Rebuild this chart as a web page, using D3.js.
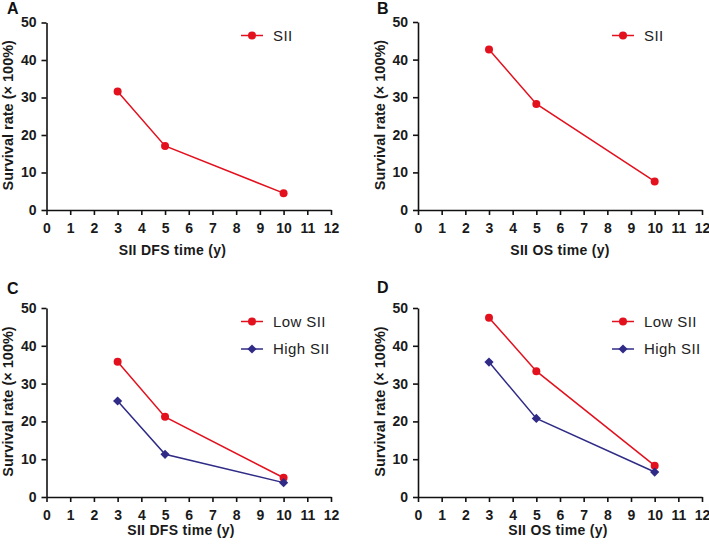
<!DOCTYPE html>
<html>
<head>
<meta charset="utf-8">
<script src="https://cdn.jsdelivr.net/npm/d3@7"></script>
<style>
  html, body { margin: 0; padding: 0; background: #fff; }
  svg { display: block; font-family: Arial, "Liberation Sans", sans-serif; }
</style>
</head>
<body>
<svg id="chart" width="709" height="544"></svg>
<script>
// ---- data ----
const years = [3, 5, 10];
const dfsSII = [31.6, 17.1, 4.5];
const osSII = [42.7, 28.2, 7.6];
const dfsLowSII = [35.8, 21.2, 5.1];
const dfsHighSII = [25.4, 11.3, 3.8];
const osLowSII = [47.4, 33.3, 8.3];
const osHighSII = [35.7, 20.8, 6.6];
const xTicks = [0, 1, 2, 3, 4, 5, 6, 7, 8, 9, 10, 11, 12];
const yTicks = [0, 10, 20, 30, 40, 50];
const panelLabels = ["A", "B", "C", "D"];
const xTitles = ["SII DFS time (y)", "SII OS time (y)", "SII DFS time (y)", "SII OS time (y)"];
const yTitle = "Survival rate (× 100%)";
const seriesNamesSingle = ["SII"];
const seriesNamesPair = ["Low SII", "High SII"];

const RED = "#e3101d";
const BLUE = "#2f2b86";

const panels = [
  { label: panelLabels[0], xTitle: xTitles[0], x0: 46.5, x1: 331, yTop: 22.5, yBot: 210,
    lx: 7, ly: 14, tx: 172.5, ty: 254.5, yt: 13, leg: { x: 241, y: 35.5, tx: 273 },
    series: [{ name: seriesNamesSingle[0], values: dfsSII, color: RED, shape: "circle" }] },
  { label: panelLabels[1], xTitle: xTitles[1], x0: 418, x1: 702, yTop: 22, yBot: 210,
    lx: 377, ly: 14, tx: 560, ty: 255, yt: 385, leg: { x: 612, y: 35.5, tx: 644 },
    series: [{ name: seriesNamesSingle[0], values: osSII, color: RED, shape: "circle" }] },
  { label: panelLabels[2], xTitle: xTitles[2], x0: 46.5, x1: 331, yTop: 308, yBot: 497,
    lx: 7, ly: 294, tx: 181, ty: 535, yt: 13, leg: { x: 241, y: 321.5, tx: 273, dy: 27.5 },
    series: [{ name: seriesNamesPair[0], values: dfsLowSII, color: RED, shape: "circle" },
             { name: seriesNamesPair[1], values: dfsHighSII, color: BLUE, shape: "diamond" }] },
  { label: panelLabels[3], xTitle: xTitles[3], x0: 418, x1: 702, yTop: 308, yBot: 497,
    lx: 377, ly: 293, tx: 558, ty: 535, yt: 385, leg: { x: 612, y: 321.5, tx: 644, dy: 27.5 },
    series: [{ name: seriesNamesPair[0], values: osLowSII, color: RED, shape: "circle" },
             { name: seriesNamesPair[1], values: osHighSII, color: BLUE, shape: "diamond" }] }
];

const svg = d3.select("#chart");

function drawMarker(g, shape, x, y, color) {
  if (shape === "circle") {
    g.append("circle").attr("cx", x).attr("cy", y).attr("r", 4).attr("fill", color);
  } else {
    const r = 4.6;
    g.append("path")
      .attr("d", `M${x},${y - r}L${x + r},${y}L${x},${y + r}L${x - r},${y}Z`)
      .attr("fill", color);
  }
}

panels.forEach(p => {
  const g = svg.append("g");
  const x = d3.scaleLinear().domain([0, 12]).range([p.x0, p.x1]);
  const y = d3.scaleLinear().domain([0, 50]).range([p.yBot, p.yTop]);

  const xAxis = g.append("g").attr("transform", `translate(0,${p.yBot})`)
    .call(d3.axisBottom(x).tickValues(xTicks).tickFormat(d3.format("d"))
      .tickSize(5).tickSizeOuter(0).tickPadding(8));
  const yAxis = g.append("g").attr("transform", `translate(${p.x0},0)`)
    .call(d3.axisLeft(y).tickValues(yTicks).tickFormat(d3.format("d"))
      .tickSize(5).tickSizeOuter(0).tickPadding(5));

  [xAxis, yAxis].forEach(a => {
    a.selectAll("path.domain").attr("stroke", "#111").attr("stroke-width", 1.6);
    a.selectAll(".tick line").attr("stroke", "#111").attr("stroke-width", 1.6);
    a.selectAll(".tick text").attr("fill", "#1a1a1a")
      .style("font-size", "14px").style("font-weight", "bold")
      .style("font-family", "Arial, 'Liberation Sans', sans-serif");
  });

  // lines and markers
  p.series.forEach(s => {
    const pts = years.map((yr, i) => [x(yr), y(s.values[i])]);
    g.append("path").attr("d", d3.line()(pts))
      .attr("fill", "none").attr("stroke", s.color).attr("stroke-width", 1.5);
    pts.forEach(pt => drawMarker(g, s.shape, pt[0], pt[1], s.color));
  });

  // legend
  p.series.forEach((s, i) => {
    const ly = p.leg.y + i * (p.leg.dy || 0);
    g.append("line").attr("x1", p.leg.x).attr("x2", p.leg.x + 22)
      .attr("y1", ly).attr("y2", ly).attr("stroke", s.color).attr("stroke-width", 1.5);
    drawMarker(g, s.shape, p.leg.x + 11, ly, s.color);
    g.append("text").attr("x", p.leg.tx).attr("y", ly).attr("dy", "0.36em")
      .attr("fill", "#222").style("font-size", "15px").style("letter-spacing", "0.4px")
      .text(s.name);
  });

  // panel label
  g.append("text").attr("x", p.lx).attr("y", p.ly)
    .style("font-size", "16px").style("font-weight", "bold").attr("fill", "#111")
    .text(p.label);

  // axis titles
  g.append("text").attr("x", p.tx).attr("y", p.ty).attr("text-anchor", "middle")
    .style("font-size", "14px").style("font-weight", "bold").attr("fill", "#1a1a1a")
    .style("letter-spacing", "0.3px")
    .text(p.xTitle);
  const cy = (p.yTop + p.yBot) / 2 - 1;
  g.append("text").attr("transform", `translate(${p.yt},${cy}) rotate(-90)`)
    .attr("text-anchor", "middle")
    .style("font-size", "14.5px").style("font-weight", "bold").attr("fill", "#1a1a1a")
    .text(yTitle);
});
</script>
</body>
</html>
